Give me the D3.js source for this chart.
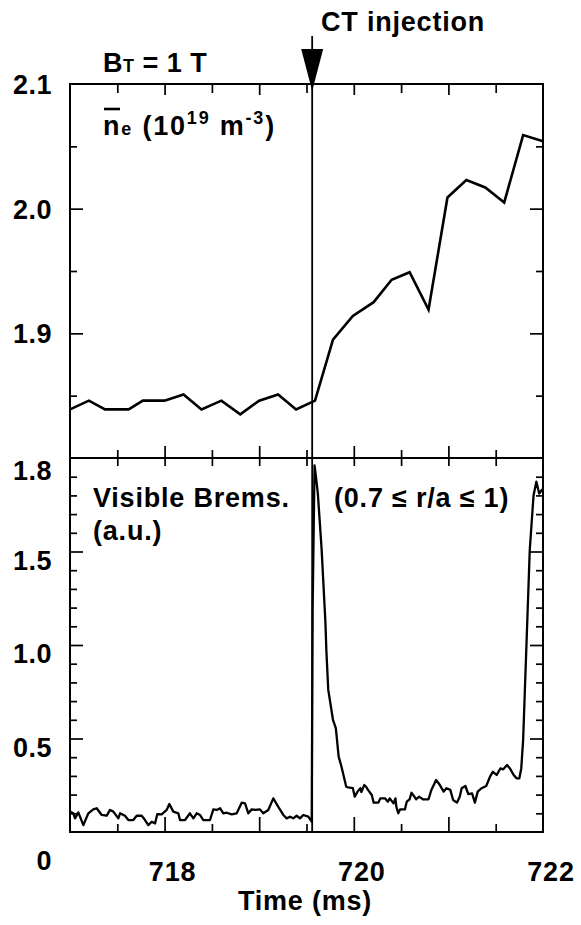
<!DOCTYPE html>
<html>
<head>
<meta charset="utf-8">
<script src="https://cdn.jsdelivr.net/npm/d3@7"></script>
<style>
  body { margin: 0; background: #fff; }
  text { font-family: "Liberation Sans", Arial, Helvetica, sans-serif; font-weight: bold; fill: #000; }
</style>
</head>
<body>
<svg id="chart"></svg>
<script>
// density trace (top panel)
const neTime = [717.0, 717.2, 717.37, 717.62, 717.77, 718.0, 718.2, 718.39, 718.6, 718.8, 719.0, 719.2, 719.39,
  719.59, 719.78, 719.99, 720.21, 720.4, 720.59, 720.79, 720.99, 721.19, 721.39, 721.59, 721.79, 722.0];
const neValue = [1.839, 1.846, 1.839, 1.839, 1.846, 1.846, 1.851, 1.839, 1.846, 1.835, 1.846, 1.851, 1.839,
  1.846, 1.895, 1.914, 1.925, 1.943, 1.949, 1.919, 2.009, 2.023, 2.017, 2.005, 2.059, 2.054];

// visible bremsstrahlung trace (bottom panel)
const brTime = [717.0, 717.035, 717.053, 717.088, 717.141, 717.194, 717.246, 717.282, 717.335, 717.388, 717.423,
  717.458, 717.511, 717.529, 717.581, 717.617, 717.669, 717.705, 717.758, 717.793, 717.828, 717.864, 717.899,
  717.923, 717.969, 718.022, 718.05, 718.092, 718.145, 718.163, 718.216, 718.268, 718.304, 718.339, 718.374,
  718.409, 718.48, 718.515, 718.55, 718.586, 718.621, 718.656, 718.709, 718.762, 718.815, 718.85, 718.885,
  718.921, 718.956, 719.008, 719.043, 719.096, 719.149, 719.202, 719.255, 719.29, 719.326, 719.36, 719.396,
  719.431, 719.466, 719.519, 719.555, 719.565, 719.585, 719.6, 719.62, 719.66, 719.7, 719.71, 719.73, 719.78,
  719.81, 719.84, 719.87, 719.92, 719.94, 719.99, 720.01, 720.04, 720.07, 720.08, 720.11, 720.13, 720.15,
  720.19, 720.21, 720.26, 720.28, 720.33, 720.36, 720.38, 720.42, 720.44, 720.45, 720.47, 720.49, 720.54,
  720.56, 720.59, 720.61, 720.64, 720.66, 720.69, 720.73, 720.79, 720.82, 720.87, 720.91, 720.95, 720.98,
  721.02, 721.05, 721.09, 721.12, 721.14, 721.18, 721.21, 721.25, 721.28, 721.31, 721.35, 721.4, 721.44,
  721.47, 721.51, 721.55, 721.58, 721.62, 721.65, 721.69, 721.72, 721.75, 721.77, 721.79, 721.86, 721.9,
  721.93, 721.96, 721.99, 722.0];
const brValue = [0.109, 0.100, 0.073, 0.105, 0.037, 0.100, 0.121, 0.127, 0.091, 0.087, 0.118,
  0.109, 0.073, 0.100, 0.087, 0.064, 0.064, 0.087, 0.087, 0.064, 0.037, 0.055, 0.046,
  0.096, 0.094, 0.118, 0.150, 0.109, 0.100, 0.064, 0.064, 0.100, 0.073, 0.100, 0.091,
  0.064, 0.064, 0.121, 0.118, 0.127, 0.100, 0.103, 0.094, 0.100, 0.157, 0.153, 0.100,
  0.121, 0.118, 0.121, 0.100, 0.118, 0.180, 0.134, 0.091, 0.073, 0.082, 0.073, 0.087,
  0.073, 0.091, 0.082, 0.055, 1.20, 1.96, 1.90, 1.81, 1.51, 1.12, 0.97, 0.76, 0.60,
  0.555, 0.403, 0.349, 0.242, 0.239, 0.234, 0.189, 0.216, 0.234, 0.214, 0.251, 0.242, 0.225,
  0.198, 0.157, 0.157, 0.18, 0.18, 0.162, 0.18, 0.153, 0.18, 0.135, 0.10, 0.121, 0.121,
  0.162, 0.175, 0.210, 0.189, 0.175, 0.189, 0.175, 0.175, 0.225, 0.278, 0.251, 0.216, 0.234,
  0.225, 0.171, 0.157, 0.189, 0.234, 0.246, 0.203, 0.207, 0.157, 0.216, 0.234, 0.246, 0.296,
  0.322, 0.305, 0.340, 0.335, 0.358, 0.340, 0.305, 0.287, 0.287, 0.340, 0.492, 1.508, 1.80,
  1.873, 1.81, 1.83, 1.82];

const injectTime = 719.56;

// ticks and labels
const xMajor = [718, 719, 720, 721];
const xMinor = [717.5, 718.5, 719.5, 720.5, 721.5];
const xLabels = [718, 720, 722];
const topMajor = [1.9, 2.0];
const topMinor = [1.85, 1.95, 2.05];
const topLabels = ["2.1", "2.0", "1.9", "1.8"];
const botMajor = [0.5, 1.0, 1.5];
const botMinor = [0.1, 0.2, 0.3, 0.4, 0.6, 0.7, 0.8, 0.9, 1.1, 1.2, 1.3, 1.4, 1.6, 1.7, 1.8, 1.9];
const botLabels = ["1.5", "1.0", "0.5", "0"];

const width = 581;
const height = 925;
const left = 70, right = 543;
const top1 = 84, mid = 458, bottom = 832;

const svg = d3.select("#chart").attr("width", width).attr("height", height);
svg.append("rect").attr("width", width).attr("height", height).attr("fill", "#fff");

const x = d3.scaleLinear().domain([717, 722]).range([left, right]);
const yTop = d3.scaleLinear().domain([1.8, 2.1]).range([mid, top1]);
const yBot = d3.scaleLinear().domain([0, 2.0]).range([bottom, mid]);

function tickAxis(axis, scale, values, size, transform) {
  svg.append("g")
    .attr("transform", transform)
    .call(axis(scale).tickValues(values).tickSize(size).tickFormat(""))
    .call(g => g.select(".domain").remove())
    .call(g => g.selectAll("line").attr("stroke", "#000").attr("stroke-width", 1.7));
}

// x ticks on every horizontal edge (pointing inward)
tickAxis(d3.axisTop, x, xMajor, -11, `translate(0,${top1})`);
tickAxis(d3.axisTop, x, xMinor, -9, `translate(0,${top1})`);
tickAxis(d3.axisBottom, x, xMajor, -12, `translate(0,${mid})`);
tickAxis(d3.axisBottom, x, xMinor, -8, `translate(0,${mid})`);
tickAxis(d3.axisTop, x, xMajor, -8, `translate(0,${mid})`);
tickAxis(d3.axisTop, x, xMinor, -8, `translate(0,${mid})`);
tickAxis(d3.axisBottom, x, xMajor, -15, `translate(0,${bottom})`);
tickAxis(d3.axisBottom, x, xMinor, -8, `translate(0,${bottom})`);

// y ticks both sides
tickAxis(d3.axisLeft, yTop, topMajor, -13, `translate(${left},0)`);
tickAxis(d3.axisLeft, yTop, topMinor, -7, `translate(${left},0)`);
tickAxis(d3.axisRight, yTop, topMajor, -13, `translate(${right},0)`);
tickAxis(d3.axisRight, yTop, topMinor, -7, `translate(${right},0)`);
tickAxis(d3.axisLeft, yBot, botMajor, -13, `translate(${left},0)`);
tickAxis(d3.axisLeft, yBot, botMinor, -7, `translate(${left},0)`);
tickAxis(d3.axisRight, yBot, botMajor, -13, `translate(${right},0)`);
tickAxis(d3.axisRight, yBot, botMinor, -7, `translate(${right},0)`);

// frames
svg.append("rect").attr("x", left).attr("y", top1).attr("width", right - left).attr("height", mid - top1)
  .attr("fill", "none").attr("stroke", "#000").attr("stroke-width", 2);
svg.append("rect").attr("x", left).attr("y", mid).attr("width", right - left).attr("height", bottom - mid)
  .attr("fill", "none").attr("stroke", "#000").attr("stroke-width", 2);

// traces
const neLine = d3.line().x((d, i) => x(neTime[i])).y(d => yTop(d));
svg.append("path").datum(neValue).attr("d", neLine)
  .attr("fill", "none").attr("stroke", "#000").attr("stroke-width", 2.6).attr("stroke-linejoin", "miter");

const brLine = d3.line().x((d, i) => x(brTime[i])).y(d => yBot(d));
svg.append("path").datum(brValue).attr("d", brLine)
  .attr("fill", "none").attr("stroke", "#000").attr("stroke-width", 2.3).attr("stroke-linejoin", "round");

// injection marker
const xi = x(injectTime);
svg.append("line").attr("x1", xi).attr("x2", xi).attr("y1", 36).attr("y2", bottom)
  .attr("stroke", "#000").attr("stroke-width", 1.8);
svg.append("path")
  .attr("d", `M${xi - 11},49 L${xi + 11},49 L${xi},91 Z`)
  .attr("fill", "#000");

// tick labels
const fs = 27;
svg.selectAll(".ylabTop").data(topLabels).enter().append("text")
  .attr("x", 52).attr("y", d => yTop(+d) + (d === "1.8" ? 22 : 10))
  .attr("text-anchor", "end").attr("font-size", fs).attr("letter-spacing", 0.5)
  .text(d => d);
svg.selectAll(".ylabBot").data(botLabels).enter().append("text")
  .attr("x", 52).attr("y", d => yBot(+d) + (d === "0" ? 38 : 18))
  .attr("text-anchor", "end").attr("font-size", fs).attr("letter-spacing", 0.5)
  .text(d => d);
svg.selectAll(".xlab").data(xLabels).enter().append("text")
  .attr("x", d => x(d) + 8).attr("y", 881)
  .attr("text-anchor", "middle").attr("font-size", fs).attr("letter-spacing", 0.8)
  .text(d => d);

svg.append("text").attr("x", 305).attr("y", 910).attr("text-anchor", "middle")
  .attr("font-size", fs).attr("letter-spacing", 0.8).text("Time (ms)");

// annotations
svg.append("text").attr("x", 321).attr("y", 31).attr("font-size", fs).attr("letter-spacing", 0.8)
  .text("CT injection");

const bt = svg.append("text").attr("x", 103).attr("y", 72).attr("font-size", fs).attr("letter-spacing", 0.5);
bt.append("tspan").text("B");
bt.append("tspan").attr("font-size", 18).text("T");
bt.append("tspan").text(" = 1 T");

const ne = svg.append("text").attr("x", 103).attr("y", 135).attr("font-size", fs).attr("letter-spacing", 1.8);
ne.append("tspan").text("n");
ne.append("tspan").attr("font-size", 18).text("e");
ne.append("tspan").text("  (10");
ne.append("tspan").attr("font-size", 18).attr("dy", -11).text("19");
ne.append("tspan").attr("dy", 11).text(" m");
ne.append("tspan").attr("font-size", 18).attr("dy", -11).text("-3");
ne.append("tspan").attr("dy", 11).text(")");
svg.append("line").attr("x1", 104).attr("x2", 120).attr("y1", 109).attr("y2", 109)
  .attr("stroke", "#000").attr("stroke-width", 2.6);

svg.append("text").attr("x", 93).attr("y", 507).attr("font-size", fs).attr("letter-spacing", 0.8)
  .text("Visible Brems.");
svg.append("text").attr("x", 93).attr("y", 540).attr("font-size", fs).attr("letter-spacing", 0.8)
  .text("(a.u.)");
svg.append("text").attr("x", 334).attr("y", 507).attr("font-size", fs).attr("letter-spacing", 0.8)
  .text("(0.7 \u2264 r/a \u2264 1)");
</script>
</body>
</html>
